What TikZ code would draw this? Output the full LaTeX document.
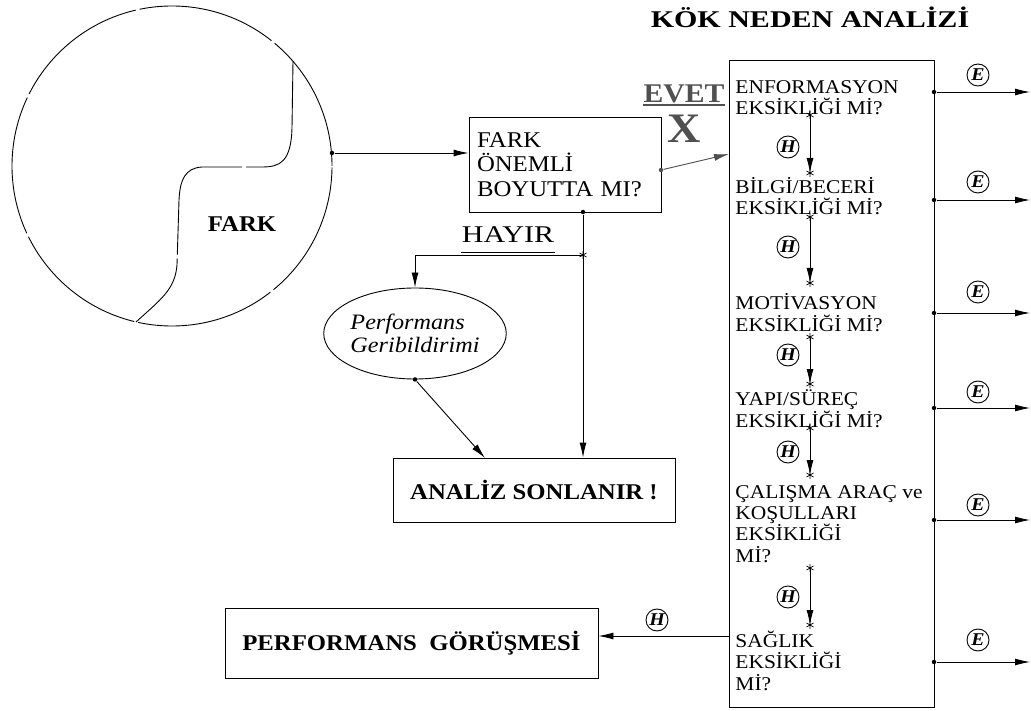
\documentclass[tikz,border=0pt]{standalone}
\usepackage{fontspec}
\setmainfont{Liberation Serif}[FakeStretch=1.1]
\newfontfamily\widefont{Liberation Serif}[FakeStretch=1.25]
\usetikzlibrary{arrows.meta,shapes.geometric}
\definecolor{evetgray}{RGB}{80,80,80}
\tikzset{
  starmark/.pic={\draw[line width=0.7pt] (0,-4)--(0,4) (-3.5,-2)--(3.5,2) (-3.5,2)--(3.5,-2);}
}
\begin{document}
\begin{tikzpicture}[x=1pt,y=-1pt,
  line width=0.9pt,
  arr/.style={-{Latex[length=15pt,width=7pt]}},
  box/.style={draw, rectangle, inner sep=0pt},
  dot/.style={circle, fill, inner sep=0pt, minimum size=4.5pt},
  cmark/.style={draw, circle, inner sep=0pt, minimum size=22pt,
    font=\fontsize{18}{18}\selectfont\bfseries\itshape},
  item/.style={anchor=base west, align=left, inner sep=0pt,
    font=\fontsize{19.5}{21.3}\selectfont},
  boldtxt/.style={font=\bfseries\fontsize{22.5}{22.5}\selectfont},
  gapline/.style={dash pattern=on 140pt off 4pt}
]
\useasboundingbox (0,0) rectangle (1031,711);

% the "difference" circle with its dividing curve
\draw[gapline] (172,166) circle[radius=160pt];
\draw[gapline] (293,61) -- (292,128)
  .. controls (291,162) and (280,167) .. (262,167) -- (202,167)
  .. controls (185,168) and (180,180) .. (179,200) -- (177,265)
  .. controls (175,290) and (160,300) .. (136,322);
\node[boldtxt] (farklbl) at (242,224) {FARK};

% decision box
\node[box, minimum width=192pt, minimum height=95pt, text width=176pt, align=left,
  font=\fontsize{22.5}{24.5}\selectfont] (q) at (565,164.5) {FARK\\ÖNEMLİ\\BOYUTTA MI?};

% title and root-cause box
\node[font=\widefont\bfseries\fontsize{24}{24}\selectfont, anchor=base] (title) at (810,28) {KÖK NEDEN ANALİZİ};
\node[box, minimum width=205pt, minimum height=647pt] (kok) at (831.5,383.5) {};

% each item is anchored at the baseline of its last line
\node[item] (i1) at (735,115) {ENFORMASYON\\EKSİKLİĞİ Mİ?};
\node[item] (i2) at (735,215) {BİLGİ/BECERİ\\EKSİKLİĞİ Mİ?};
\node[item] (i3) at (735,331) {MOTİVASYON\\EKSİKLİĞİ Mİ?};
\node[item] (i4) at (735,427) {YAPI/SÜREÇ\\EKSİKLİĞİ Mİ?};
\node[item] (i5) at (735,562) {ÇALIŞMA ARAÇ ve\\KOŞULLARI\\EKSİKLİĞİ\\Mİ?};
\node[item] (i6) at (735,690) {SAĞLIK\\EKSİKLİĞİ\\Mİ?};

% yes / no labels
\node[font=\bfseries\fontsize{27}{27}\selectfont, text=evetgray, anchor=base, inner sep=0pt] (evet) at (684,103) {EVET};
\draw[evetgray, line width=1.8pt] ([yshift=-2pt]evet.base west) -- ([yshift=-2pt]evet.base east);
\node[font=\bfseries\fontsize{42}{42}\selectfont, text=evetgray, inner sep=0pt] (xmark) at (684,129) {X};
\node[font=\widefont\fontsize{24}{24}\selectfont, anchor=base, inner sep=0pt] (hayir) at (508,243) {HAYIR};
\draw ([yshift=-9pt]hayir.base west) -- ([yshift=-9pt]hayir.base east);

% feedback and end boxes
\node[draw, ellipse, minimum width=176pt, minimum height=91pt, inner sep=0pt, align=left,
  font=\itshape\fontsize{22}{23}\selectfont] (pg) at (415,333.5) {Performans\\Geribildirimi};
\node[box, boldtxt, minimum width=282pt, minimum height=64pt] (an) at (534,490) {ANALİZ SONLANIR !};
\node[box, boldtxt, minimum width=373pt, minimum height=70pt] (pf) at (411.5,643) {PERFORMANS\ \ GÖRÜŞMESİ};

% circle to decision
\node[dot] (d0) at (332,153) {};
\draw[arr] (d0) -- (q.west |- d0);

% yes branch
\node[dot, fill=evetgray] (d1) at (661,170) {};
\coordinate (kin) at (729,154);
\draw[arr, evetgray] (d1) -- (kin);

% no branch
\node[dot] (d2) at (583,212) {};
\coordinate (s0) at (583,255);
\draw (d2) -- (s0);
\pic at (s0) {starmark};
\draw[arr] (s0) -| (pg.north);
\draw[arr] (s0) -- (an.north -| s0);
\node[dot] (d3) at (pg.south) {};
\coordinate (anin) at (485,458);
\draw[arr] (d3) -- (anin);

% "no" chain inside the root-cause box
\coordinate (s1a) at (810,115); \coordinate (s1b) at (810,173);
\coordinate (s2a) at (810,217); \coordinate (s2b) at (810,283);
\coordinate (s3a) at (810,337); \coordinate (s3b) at (810,384);
\coordinate (s4a) at (810,428); \coordinate (s4b) at (810,475);
\coordinate (s5a) at (810,568); \coordinate (s5b) at (810,625);
\foreach \a/\b in {s1a/s1b,s2a/s2b,s3a/s3b,s4a/s4b,s5a/s5b}{
  \draw[arr] (\a) -- (\b);
  \pic at (\a) {starmark};
  \pic at (\b) {starmark};
}
\node[cmark] (h1) at (788,147) {H};
\node[cmark] (h2) at (788,247) {H};
\node[cmark] (h3) at (788,355) {H};
\node[cmark] (h4) at (788,452) {H};
\node[cmark] (h5) at (788,597) {H};

% "yes" outputs on the right
\foreach \n/\y/\ly in {1/92/75,2/200/182,3/313/292,4/408/392,5/520/505,6/662/640}{
  \node[dot] (ed\n) at (934,\y) {};
  \coordinate (eo\n) at (1030,\y);
  \draw[arr] (ed\n) -- (eo\n);
  \node[cmark] (e\n) at (978,\ly) {E};
}

% last "no" leads to the performance interview
\coordinate (pfo) at (729,636);
\draw[arr] (pfo) -- (pf.east |- pfo);
\node[cmark] (h6) at (657,620) {H};
\end{tikzpicture}
\end{document}
